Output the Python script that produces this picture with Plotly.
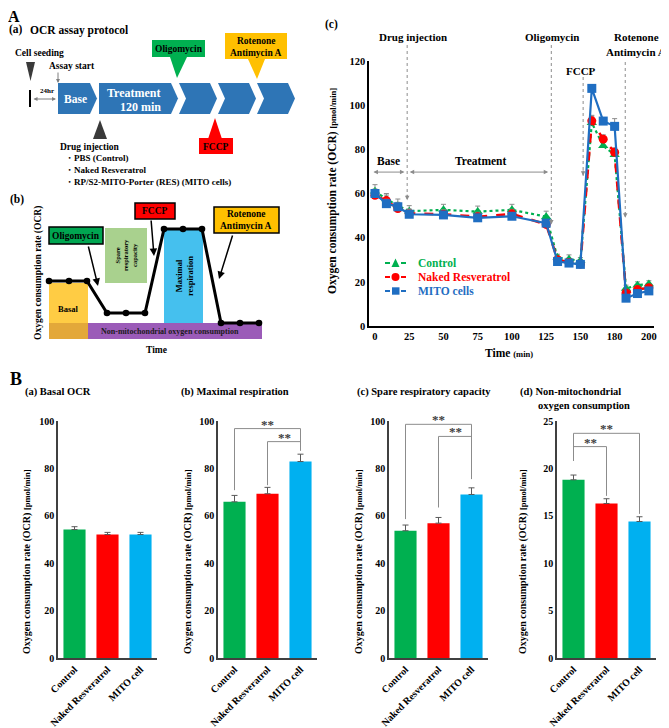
import plotly.graph_objects as go

# The page body has an 8px margin, so the figure is sized to the visible window minus that offset
OX, OY = 8, 8
FW, FH = 661, 720
FONT = "Liberation Serif"

# ---------------- data: panel A(c) time course ----------------
time_labels = ["0", "25", "50", "75", "100", "125", "150", "180", "200"]
# measurement slots on the (non-linear) time axis, in units of tick label slots
time_slot = [0, 0.333, 0.667, 1, 2, 3, 4, 5, 5.333, 5.667, 6, 6.333, 6.667, 7, 7.333, 7.667, 8]
ctrl_ocr = [61.0, 57.5, 54.5, 52.0, 52.6, 51.8, 52.6, 49.5, 31.0, 30.2, 29.5, 92.0, 81.6, 77.5, 17.0, 18.5, 19.0]
ctrl_err = [3.0, 2.5, 3.0, 2.5, 2.5, 2.5, 2.5, 2.5, 1.5, 2.0, 1.5, 3.0, 2.0, 2.0, 1.5, 1.5, 1.5]
res_ocr = [59.2, 56.8, 53.2, 51.0, 50.6, 49.5, 50.8, 46.0, 30.0, 28.8, 28.0, 92.9, 84.6, 78.7, 15.0, 16.5, 17.3]
res_err = [2.0, 2.5, 2.5, 2.0, 2.0, 2.0, 2.0, 2.0, 1.5, 1.5, 1.5, 2.5, 2.0, 2.0, 1.5, 1.5, 1.5]
mito_ocr = [60.0, 55.4, 54.0, 50.6, 50.3, 49.0, 49.7, 46.6, 29.2, 28.5, 27.9, 107.6, 92.8, 90.4, 12.6, 14.7, 15.9]
mito_err = [2.0, 2.0, 2.0, 2.0, 1.5, 1.5, 1.5, 1.5, 1.0, 1.0, 1.0, 1.5, 1.5, 3.5, 1.0, 1.0, 1.0]

# ---------------- data: panel B bars ----------------
groups = ["Control", "Naked Resveratrol", "MITO cell"]
bar_colors = ["#00B050", "#FF0000", "#00B0F0"]
basal_ocr = [54.2, 52.1, 52.1]
basal_err = [1.2, 0.9, 0.9]
maximal_ocr = [65.9, 69.3, 82.9]
maximal_err = [2.7, 2.7, 3.1]
spare_ocr = [53.7, 56.9, 69.0]
spare_err = [2.4, 2.4, 2.8]
nonmito_ocr = [18.8, 16.3, 14.4]
nonmito_err = [0.5, 0.5, 0.5]
# significance brackets: (left group, right group, top, left leg bottom, right leg bottom)
maximal_sig = [(0, 2, 96.8, 70.8, 87.5), (1, 2, 91.3, 72.9, 87.5)]
spare_sig = [(0, 2, 98.6, 58.6, 75.5), (1, 2, 93.5, 63.5, 75.5)]
nonmito_sig = [(0, 2, 23.7, 20.8, 15.2), (0, 1, 22.3, 20.8, 17.1)]

# ---------------- schematic A(b) points (pixel space) ----------------
scheme_x = [49, 69, 87, 107, 126, 145, 164, 183, 202, 221, 240, 259]
scheme_y = [281, 281, 281, 313, 313, 313, 229, 229, 229, 323, 323, 323]


def X(p):
    return (p - OX) / FW


def Y(p):
    return 1 - (p - OY) / FH


shapes = []
anns = []


def txt(text, x, y, size=11, color="black", xa="center", ya="middle", angle=0, bold=True, height=None):
    a = dict(text=text, x=X(x), y=Y(y), xref="paper", yref="paper", showarrow=False,
             xanchor=xa, yanchor=ya, textangle=angle,
             font=dict(family=FONT, size=size, color=color, weight="bold" if bold else "normal"))
    if height:
        a["height"] = height
        a["borderpad"] = 0
    anns.append(a)


def rect(x0, y0, x1, y1, fill, line=None, lw=1):
    shapes.append(dict(type="rect", xref="paper", yref="paper", x0=X(x0), x1=X(x1), y0=Y(y1), y1=Y(y0),
                       fillcolor=fill, line=dict(color=line or fill, width=lw if line else 0), layer="above"))


def poly(pts, fill, line=None, lw=0):
    d = "M " + " L ".join(f"{X(a):.5f},{Y(b):.5f}" for a, b in pts) + " Z"
    shapes.append(dict(type="path", xref="paper", yref="paper", path=d, fillcolor=fill,
                       line=dict(color=line or fill, width=lw), layer="above"))


def arrow(tx, ty, hx, hy, color="black", width=1.5, head=2, size=1, both=False):
    anns.append(dict(text="", x=X(hx), y=Y(hy), xref="paper", yref="paper", showarrow=True,
                     ax=tx - hx, ay=ty - hy, axref="pixel", ayref="pixel", arrowcolor=color,
                     arrowwidth=width, arrowhead=head, arrowsize=size,
                     arrowside="end+start" if both else "end", startarrowhead=head, startarrowsize=size))


# ================= Panel A(a) protocol =================
txt("A", 7, 8, size=16, xa="left", ya="top", height=14)
txt("(a)", 8, 29.5, size=11.5, xa="left", height=13)
txt("OCR assay protocol", 29, 30, size=11.5, xa="left", height=13)

blue = "#2E75B6"
d = 7
yt, yb = 83, 114
ym = (yt + yb) / 2
poly([(58, yt), (97 - d, yt), (97, ym), (97 - d, yb), (58, yb)], blue)
poly([(99, yt), (178 - d, yt), (178, ym), (178 - d, yb), (99, yb)], blue)
for x0, x1 in [(179, 217), (218, 256), (257, 295)]:
    poly([(x0, yt), (x1 - d, yt), (x1, ym), (x1 - d, yb), (x0, yb), (x0 + d, ym)], blue)
txt("Base", 75, 99, size=11.5, color="white")
txt("Treatment", 134, 93, size=12, color="white")
txt("120 min", 140, 107, size=12, color="white")

txt("Cell seeding", 13, 53, size=9.5, xa="left")
poly([(26, 62), (35, 62), (30.5, 81)], "#3A3A3A")
shapes.append(dict(type="line", xref="paper", yref="paper", x0=X(30), x1=X(30), y0=Y(90), y1=Y(107),
                   line=dict(color="black", width=2)))
txt("24hr", 47, 91, size=7)
arrow(32, 99, 56, 99, color="#7F7F7F", width=1, head=2, size=0.8, both=True)
txt("Assay start", 47, 66, size=9.5, xa="left")
arrow(58, 71, 58, 83, color="#7F7F7F", width=1, head=2, size=0.8)

rect(152, 40, 205, 57, "#00B050")
poly([(170, 57), (187, 57), (177, 78)], "#00B050")
txt("Oligomycin", 178.5, 49, size=9.5)
rect(225, 33, 287, 59, "#FFC000")
poly([(248, 59), (265, 59), (257, 79)], "#FFC000")
txt("Rotenone", 256, 41, size=9.5)
txt("Antimycin A", 256, 53, size=9.5)
rect(199, 138, 233, 154, "#FF0000")
poly([(208, 139), (222, 139), (215, 118)], "#FF0000")
txt("FCCP", 216, 147, size=9.5)

poly([(93, 139), (107, 139), (100, 120)], "#3A3A3A")
txt("Drug injection", 58, 147, size=9.5, xa="left")
txt("・PBS (Control)", 63, 157.5, size=9, xa="left")
txt("・Naked Resveratrol", 63, 170, size=9, xa="left")
txt("・RP/S2-MITO-Porter (RES) (MITO cells)", 63, 182, size=9, xa="left")

# ================= Panel A(b) schematic =================
txt("(b)", 8, 200, size=11.5, xa="left")
rect(49, 283, 88, 323, "#FFCC44")
rect(49, 323, 88, 339, "#E3A83A")
rect(88, 323, 262, 339, "#9B5BB8")
rect(105, 228, 147, 283, "#A9D18E")
rect(164, 229, 203, 323, "#45C0EE")
txt("Basal", 68, 309, size=8.5)
txt("Non-mitochondrial oxygen consumption", 170, 332, size=8, color="#1a1a1a")
txt("Spare<br>respiratory<br>capacity", 126, 255, size=6.5, angle=-90)
txt("Maximal<br>respiration", 184, 276, size=8.5, angle=-90)
path = "M " + " L ".join(f"{X(a):.5f},{Y(b):.5f}" for a, b in zip(scheme_x, scheme_y))
shapes.append(dict(type="path", xref="paper", yref="paper", path=path, line=dict(color="black", width=3), layer="above"))
for a, b in zip(scheme_x, scheme_y):
    shapes.append(dict(type="circle", xref="paper", yref="paper", x0=X(a - 3.3), x1=X(a + 3.3),
                       y0=Y(b + 3.3), y1=Y(b - 3.3), fillcolor="black", line=dict(width=0), layer="above"))
rect(49, 227, 103, 244, "#00A651", line="black", lw=1.5)
txt("Oligomycin", 76, 235.5, size=9.5)
rect(135, 203, 175, 219, "#FF0000", line="black", lw=1.5)
txt("FCCP", 155, 211, size=9.5)
rect(214, 207, 279, 233, "#FFC000", line="black", lw=1.5)
txt("Rotenone", 246.5, 214, size=9.5)
txt("Antimycin A", 246.5, 226, size=9.5)
arrow(88, 245, 98, 286, width=1.5, head=2, size=1)
arrow(151, 219, 154, 256, width=1.5, head=2, size=1)
arrow(233, 234, 219, 279, width=1.5, head=2, size=1)
txt("Oxygen consumption rate (OCR)", 38, 273, size=9.5, angle=-90)
txt("Time", 156, 350, size=9.5)

# ================= Panel A(c) time course =================
txt("(c)", 323, 24, size=11.5, xa="left")
fig = go.Figure()
series = [
    ("Control", ctrl_ocr, ctrl_err, "#00B050", "dot", "triangle-up", 2.2),
    ("Naked Resveratrol", res_ocr, res_err, "#FF0000", "dash", "circle", 2.5),
    ("MITO cells", mito_ocr, mito_err, "#1F6EC2", "solid", "square", 2.2),
]
for name, vals, err, col, dash, sym, lw in series:
    fig.add_trace(go.Scatter(
        x=time_slot, y=vals, mode="lines+markers", xaxis="x", yaxis="y", name=name, showlegend=False,
        line=dict(color=col, dash=dash, width=lw),
        marker=dict(symbol=sym, size=9, color=col),
        error_y=dict(type="data", array=err, arrayminus=[0] * len(err), symmetric=False,
                     color="#8C8C8C", thickness=1, width=2.5),
    ))

# custom legend (compact, coloured text): "-marker-" keys
for row, (name, vals, err, col, dash, sym, lw) in enumerate(series):
    ly = 263 + row * 14
    for sx0, sx1 in [(385, 390), (401, 406)]:
        shapes.append(dict(type="line", xref="paper", yref="paper", x0=X(sx0), x1=X(sx1), y0=Y(ly), y1=Y(ly),
                           line=dict(color=col, width=2), layer="above"))
    if sym == "triangle-up":
        poly([(391.5, ly + 4), (399.5, ly + 4), (395.5, ly - 4.5)], col)
    elif sym == "circle":
        shapes.append(dict(type="circle", xref="paper", yref="paper", x0=X(391.5), x1=X(399.5),
                           y0=Y(ly + 4), y1=Y(ly - 4), fillcolor=col, line=dict(width=0), layer="above"))
    else:
        rect(392, ly - 3.7, 399.5, ly + 3.7, col)
    txt(name, 416, ly, size=11.5, color=col, xa="left")

c_dom_y = (Y(326), Y(61))


def cy(v):
    return c_dom_y[0] + v / 120 * (c_dom_y[1] - c_dom_y[0])


vlines = [(0.94, Y(45), cy(57)), (5.15, Y(45), cy(46)), (6.08, Y(77), cy(68)), (7.31, Y(62), cy(49))]
for xv, ytop, ybot in vlines:
    shapes.append(dict(type="line", xref="x", yref="paper", x0=xv, x1=xv, y0=ytop, y1=ybot,
                       line=dict(color="#8C8C8C", width=1, dash="dot"), layer="above"))
    anns.append(dict(text="", x=xv, y=ybot, xref="x", yref="paper", showarrow=True, ax=0, ay=-7,
                     arrowcolor="#8C8C8C", arrowwidth=1, arrowhead=2, arrowsize=0.9))
for x0, x1, lab, lx in [(-0.09, 0.86, "Base", 0.38), (0.97, 5.06, "Treatment", 3.07)]:
    anns.append(dict(text="", x=x1, y=69.7, xref="x", yref="y", ax=x0, ay=69.7, axref="x", ayref="y",
                     showarrow=True, arrowside="end+start", arrowhead=2, startarrowhead=2,
                     arrowsize=0.9, startarrowsize=0.9, arrowwidth=1, arrowcolor="#8C8C8C"))
    anns.append(dict(text=lab, x=lx, y=74.5, xref="x", yref="y", showarrow=False,
                     font=dict(family=FONT, size=11.5, color="black", weight="bold")))
txt("Drug injection", 413, 37, size=11)
txt("Oligomycin", 552, 37, size=11)
txt("Rotenone", 636, 37, size=11)
txt("Antimycin A", 636, 52, size=11)
txt("FCCP", 581, 71, size=11)
txt("Oxygen consumption rate (OCR) <span style='font-size:8.5px'>[pmol/min]</span>", 332, 191, size=11.5, angle=-90)
txt("Time <span style='font-size:8.5px'>(min)</span>", 509, 353, size=11.5)

# ================= Panel B =================
txt("B", 8, 379, size=18, xa="left")
txt("(a) Basal OCR", 23, 392, size=10.5, xa="left")
txt("(b) Maximal respiration", 179, 392, size=10.5, xa="left")
txt("(c) Spare respiratory capacity", 355, 392, size=10.5, xa="left")
txt("(d) Non-mitochondrial", 518, 392, size=10.5, xa="left")
txt("oxygen consumption", 536, 405, size=10.5, xa="left")

bar_panels = [
    ("2", basal_ocr, basal_err, 58, 27, 100, 20, []),
    ("3", maximal_ocr, maximal_err, 218, 188, 100, 20, maximal_sig),
    ("4", spare_ocr, spare_err, 389, 359, 100, 20, spare_sig),
    ("5", nonmito_ocr, nonmito_err, 557, 523, 25, 5, nonmito_sig),
]
layout_axes = {}
for k, vals, err, left, title_x, ymax, dt, sig in bar_panels:
    fig.add_trace(go.Bar(x=[0, 1, 2], y=vals, xaxis="x" + k, yaxis="y" + k, width=0.67,
                         marker=dict(color=bar_colors, line=dict(width=0)), showlegend=False,
                         error_y=dict(type="data", array=err, arrayminus=[0, 0, 0], symmetric=False,
                                      color="#595959", thickness=1, width=3)))
    layout_axes["xaxis" + k] = dict(domain=[X(left), X(left + 99)], anchor="y" + k, range=[-0.5, 2.5],
                                    tickvals=[0, 1, 2], ticktext=groups, tickangle=-45, automargin=False,
                                    showline=True, linecolor="#404040", linewidth=1.5, showgrid=False,
                                    zeroline=False, ticks="",
                                    tickfont=dict(family=FONT, size=10, color="black", weight="bold"))
    layout_axes["yaxis" + k] = dict(domain=[Y(658), Y(421)], anchor="x" + k, range=[0, ymax],
                                    dtick=dt, showline=True, linecolor="#404040", linewidth=1.5,
                                    showgrid=False, zeroline=False, ticks="", automargin=False,
                                    tickfont=dict(family=FONT, size=10, color="black", weight="bold"))
    txt("Oxygen consumption rate (OCR) <span style='font-size:8.5px'>[pmol/min]</span>", title_x, 562,
        size=10, angle=-90)
    for i, j, top, lb, rb in sig:
        for (xa0, ya0, xa1, ya1) in [(i, lb, i, top), (i, top, j, top), (j, top, j, rb)]:
            shapes.append(dict(type="line", xref="x" + k, yref="y" + k, x0=xa0, x1=xa1, y0=ya0, y1=ya1,
                               line=dict(color="#8C8C8C", width=1), layer="above"))
        anns.append(dict(text="**", x=(i + j) / 2, y=top, xref="x" + k, yref="y" + k, showarrow=False,
                         yanchor="bottom", yshift=-5,
                         font=dict(family=FONT, size=13, color="#404040", weight="bold")))

fig.update_layout(
    template="none",
    width=FW, height=FH, margin=dict(l=0, r=0, t=0, b=0, autoexpand=False),
    paper_bgcolor="white", plot_bgcolor="rgba(0,0,0,0)", showlegend=False,
    font=dict(family=FONT, color="black"),
    xaxis=dict(domain=[X(369), X(654)], anchor="y", range=[-0.175, 8.15], tickvals=list(range(9)),
               ticktext=time_labels, showline=True, linecolor="black", linewidth=1.5, showgrid=False,
               zeroline=False, ticks="", automargin=False,
               tickfont=dict(family=FONT, size=10.5, color="black", weight="bold")),
    yaxis=dict(domain=list(c_dom_y), anchor="x", range=[0, 120], dtick=20, showline=True,
               linecolor="black", linewidth=1.5, showgrid=False, zeroline=False, ticks="", automargin=False,
               tickfont=dict(family=FONT, size=10.5, color="black", weight="bold")),
    shapes=shapes, annotations=anns,
    **layout_axes,
)
fig.write_html("out.html")
